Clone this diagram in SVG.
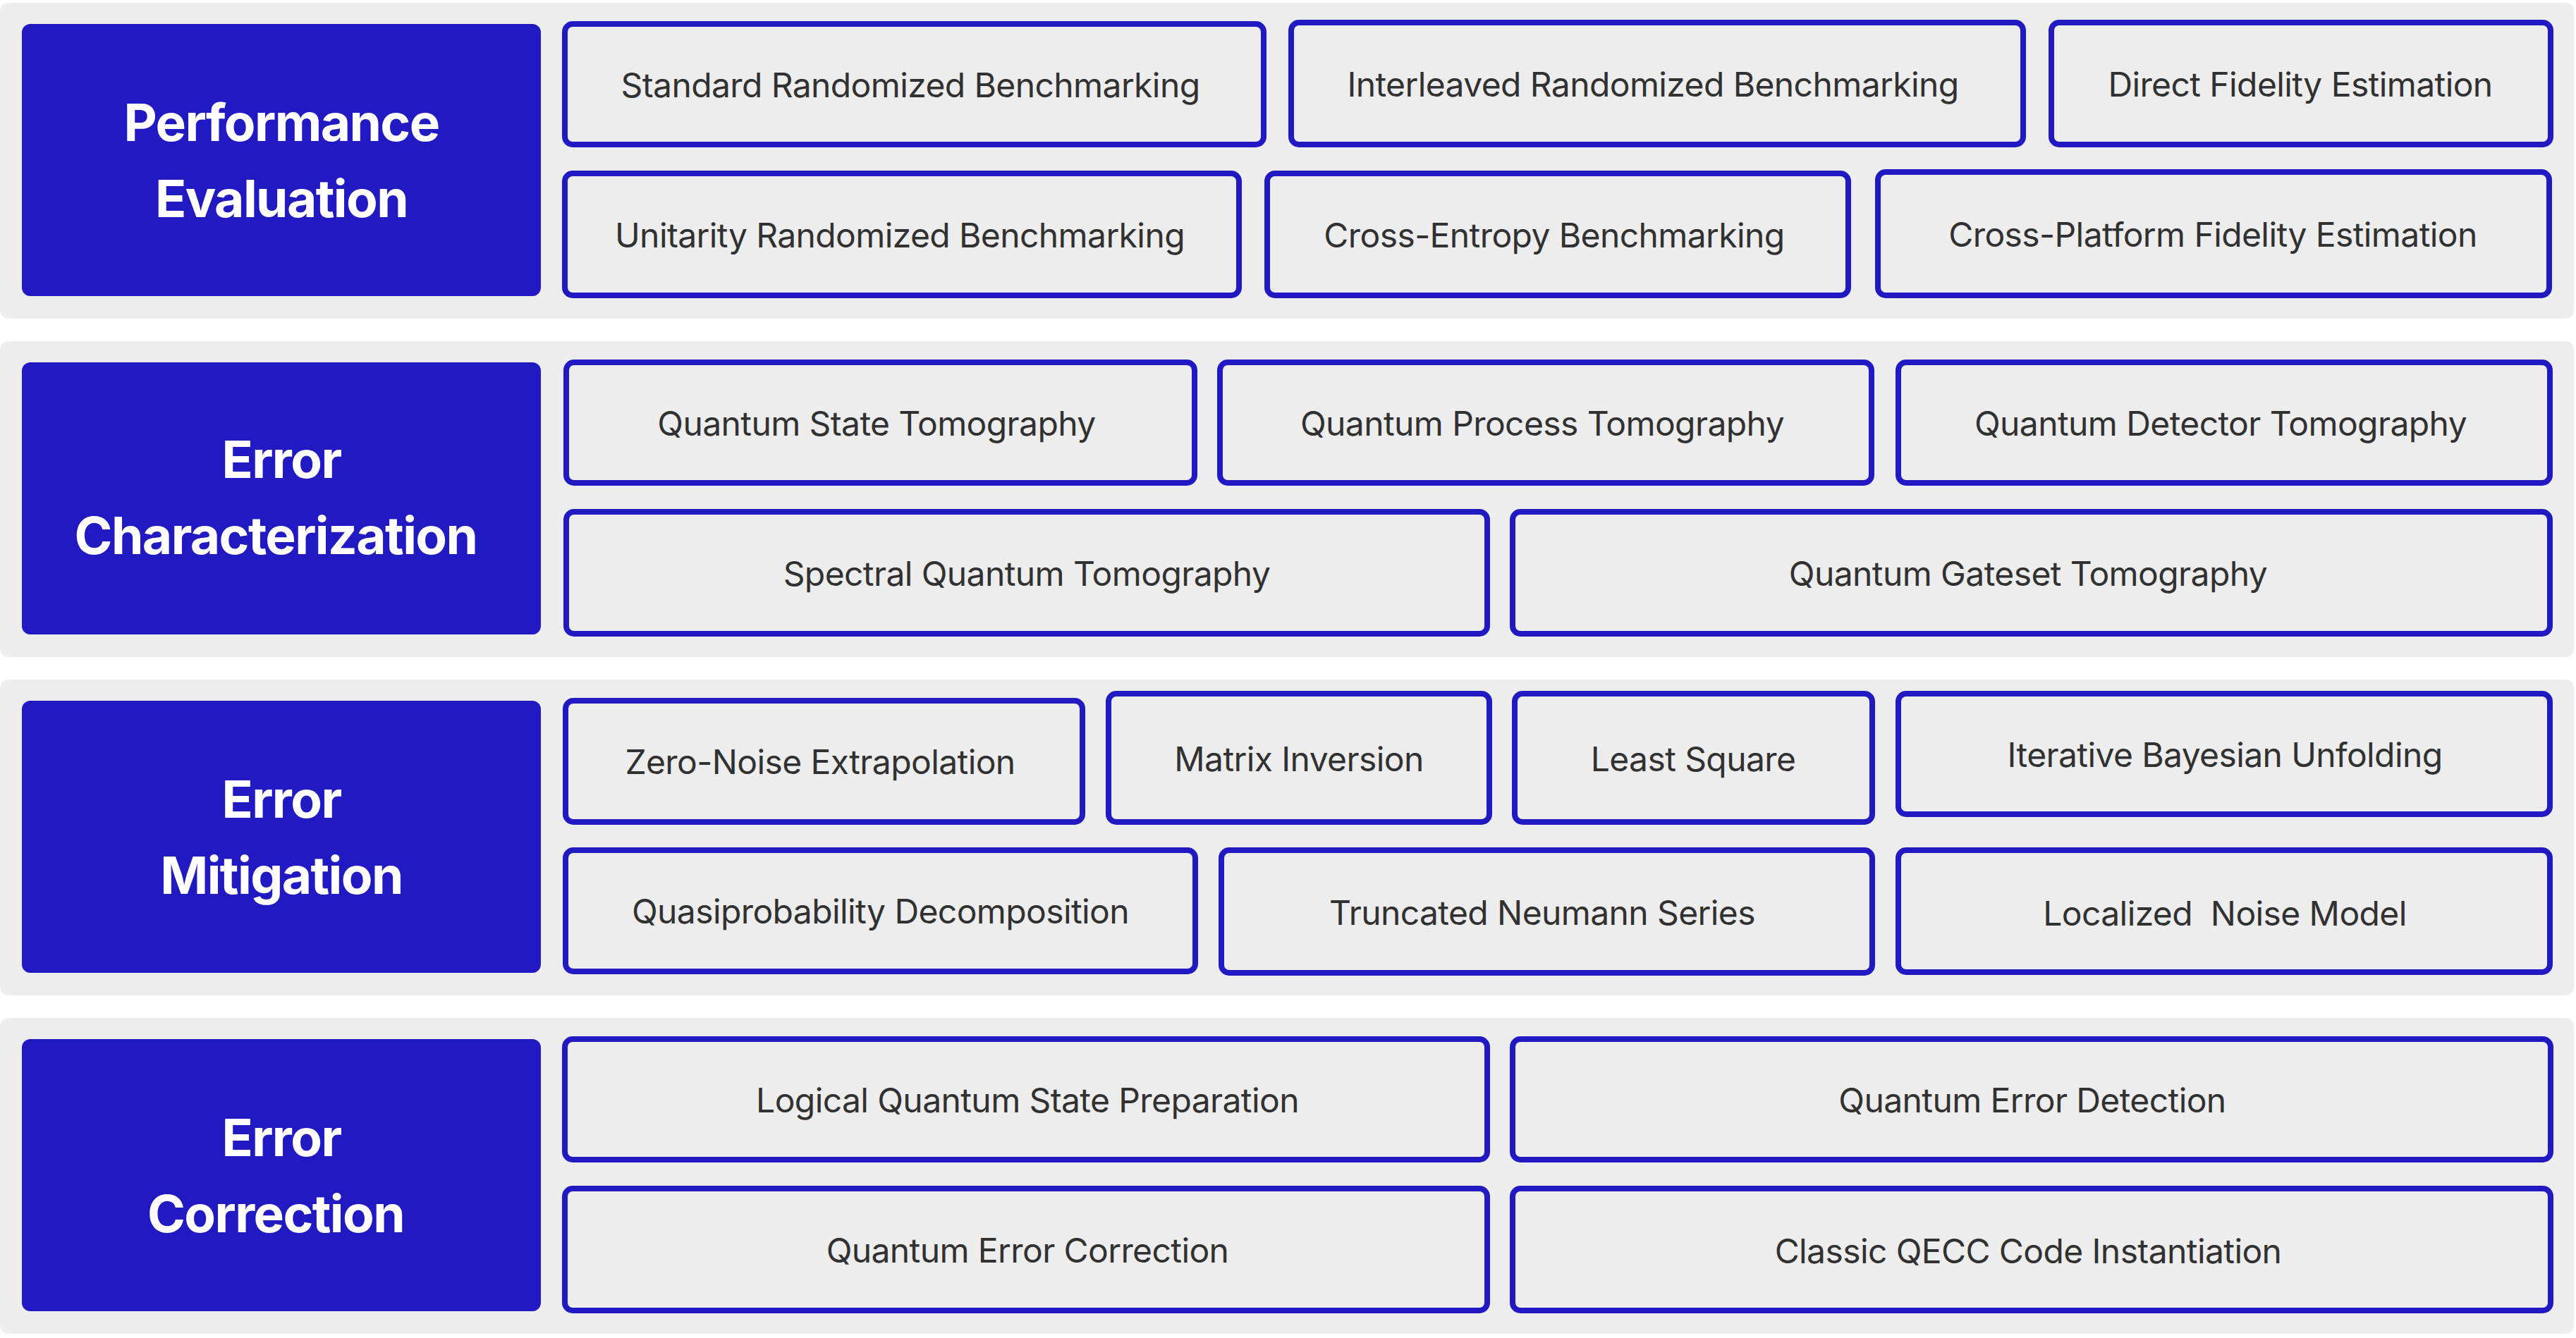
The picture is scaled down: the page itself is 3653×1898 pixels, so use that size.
<svg xmlns="http://www.w3.org/2000/svg" width="3653" height="1898" viewBox="0 0 3653 1898">
<style>
.panel{fill:#EDEDED}
.head{fill:#2119C1}
.htxt{font-family:Inter,"Liberation Sans",sans-serif;font-weight:700;font-size:73px;letter-spacing:-1.6px;fill:#FFFFFF;text-anchor:middle}
.node{fill:#EDEDED;stroke:#2119C1;stroke-width:8}
.ntxt{font-family:Inter,"Liberation Sans",sans-serif;font-weight:400;font-size:48px;letter-spacing:-0.6px;fill:#313131;text-anchor:middle;white-space:pre}
</style>
<rect width="3653" height="1898" fill="#FFFFFF"/>
<g id="panels">
<rect class="panel" x="0" y="4" width="3650" height="448" rx="12"/>
<rect class="panel" x="0" y="484" width="3650" height="448" rx="12"/>
<rect class="panel" x="0" y="964" width="3650" height="448" rx="12"/>
<rect class="panel" x="0" y="1444" width="3650" height="448" rx="12"/>
</g>
<g id="head-performance"><rect class="head" x="31" y="34" width="736" height="386" rx="12"/><text class="htxt" x="399" y="200">Performance</text><text class="htxt" x="399" y="308">Evaluation</text></g>
<g id="head-characterization"><rect class="head" x="31" y="514" width="736" height="386" rx="12"/><text class="htxt" x="399" y="678">Error</text><text class="htxt" x="391" y="786">Characterization</text></g>
<g id="head-mitigation"><rect class="head" x="31" y="994" width="736" height="386" rx="12"/><text class="htxt" x="399" y="1160">Error</text><text class="htxt" x="399" y="1268">Mitigation</text></g>
<g id="head-correction"><rect class="head" x="31" y="1474" width="736" height="386" rx="12"/><text class="htxt" x="399" y="1640">Error</text><text class="htxt" x="391" y="1748">Correction</text></g>

<g id="n-srb"><rect class="node" x="801" y="34" width="991" height="171" rx="11"/><text class="ntxt" x="1291" y="138">Standard Randomized Benchmarking</text></g>
<g id="n-irb"><rect class="node" x="1831" y="32" width="1038" height="173" rx="11"/><text class="ntxt" x="2344" y="137">Interleaved Randomized Benchmarking</text></g>
<g id="n-dfe"><rect class="node" x="2909" y="32" width="708" height="173" rx="11"/><text class="ntxt" x="3262" y="137">Direct Fidelity Estimation</text></g>
<g id="n-urb"><rect class="node" x="801" y="246" width="956" height="173" rx="11"/><text class="ntxt" x="1276" y="351">Unitarity Randomized Benchmarking</text></g>
<g id="n-xeb"><rect class="node" x="1797" y="246" width="824" height="173" rx="11"/><text class="ntxt" x="2204" y="351">Cross-Entropy Benchmarking</text></g>
<g id="n-cpfe"><rect class="node" x="2663" y="244" width="952" height="175" rx="11"/><text class="ntxt" x="3138" y="350">Cross-Platform Fidelity Estimation</text></g>

<g id="n-qst"><rect class="node" x="803" y="514" width="891" height="171" rx="11"/><text class="ntxt" x="1243" y="618">Quantum State Tomography</text></g>
<g id="n-qpt"><rect class="node" x="1730" y="514" width="924" height="171" rx="11"/><text class="ntxt" x="2187" y="618">Quantum Process Tomography</text></g>
<g id="n-qdt"><rect class="node" x="2692" y="514" width="924" height="171" rx="11"/><text class="ntxt" x="3149" y="618">Quantum Detector Tomography</text></g>
<g id="n-sqt"><rect class="node" x="803" y="726" width="1306" height="173" rx="11"/><text class="ntxt" x="1456" y="831">Spectral Quantum Tomography</text></g>
<g id="n-qgt"><rect class="node" x="2145" y="726" width="1471" height="173" rx="11"/><text class="ntxt" x="2876" y="831">Quantum Gateset Tomography</text></g>

<g id="n-zne"><rect class="node" x="802" y="994" width="733" height="172" rx="11"/><text class="ntxt" x="1163" y="1098">Zero-Noise Extrapolation</text></g>
<g id="n-mi"><rect class="node" x="1572" y="984" width="540" height="182" rx="11"/><text class="ntxt" x="1842" y="1094">Matrix Inversion</text></g>
<g id="n-ls"><rect class="node" x="2148" y="984" width="507" height="182" rx="11"/><text class="ntxt" x="2401" y="1094">Least Square</text></g>
<g id="n-ibu"><rect class="node" x="2692" y="984" width="924" height="171" rx="11"/><text class="ntxt" x="3155" y="1088">Iterative Bayesian Unfolding</text></g>
<g id="n-qpd"><rect class="node" x="802" y="1206" width="893" height="172" rx="11"/><text class="ntxt" x="1248.5" y="1310">Quasiprobability Decomposition</text></g>
<g id="n-tns"><rect class="node" x="1732" y="1206" width="923" height="174" rx="11"/><text class="ntxt" x="2187" y="1312">Truncated Neumann Series</text></g>
<g id="n-lnm"><rect class="node" x="2692" y="1206" width="924" height="173" rx="11"/><text class="ntxt" x="3155" y="1313" xml:space="preserve">Localized  Noise Model</text></g>

<g id="n-lqsp"><rect class="node" x="801" y="1474" width="1308" height="171" rx="11"/><text class="ntxt" x="1457" y="1578">Logical Quantum State Preparation</text></g>
<g id="n-qed"><rect class="node" x="2145" y="1474" width="1472" height="171" rx="11"/><text class="ntxt" x="2882" y="1578">Quantum Error Detection</text></g>
<g id="n-qec"><rect class="node" x="801" y="1686" width="1308" height="173" rx="11"/><text class="ntxt" x="1457" y="1791">Quantum Error Correction</text></g>
<g id="n-cqecc"><rect class="node" x="2145" y="1686" width="1472" height="173" rx="11"/><text class="ntxt" x="2876" y="1792">Classic QECC Code Instantiation</text></g>
<g id="connectors"></g>
</svg>
